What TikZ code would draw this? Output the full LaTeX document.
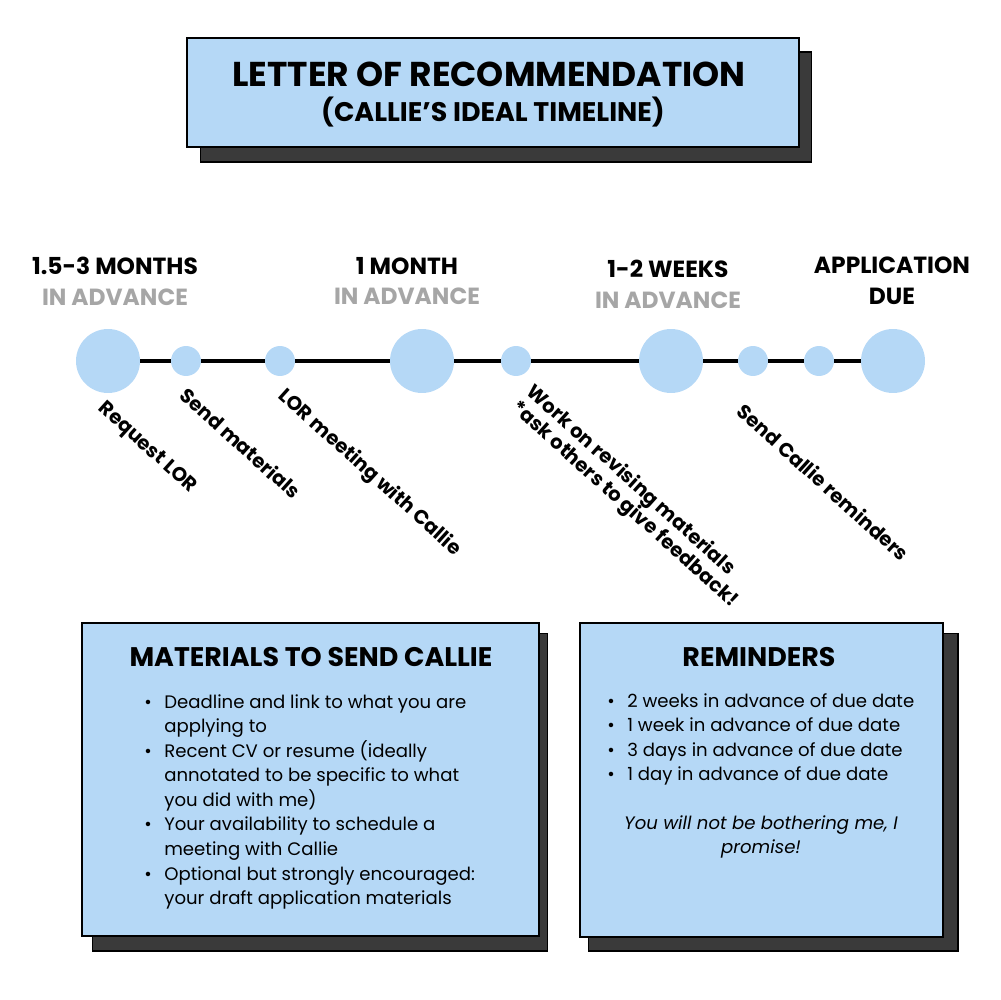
\documentclass[tikz,border=0pt]{standalone}
\usepackage{fontspec}
\setmainfont{Poppins}
\usetikzlibrary{positioning}
\definecolor{lorblue}{HTML}{B5D8F6}
\definecolor{lorshadow}{HTML}{3A3A3A}
\definecolor{lorgray}{HTML}{A6A6A6}
\begin{document}
\begin{tikzpicture}[x=0.02cm,y=-0.02cm,
    card/.style={draw=black,line width=1.3pt,fill=lorblue,inner sep=0pt},
    cardshadow/.style={fill=lorshadow,draw=black,line width=0.6pt,inner sep=0pt},
    bigdot/.style={circle,fill=lorblue,inner sep=0pt,minimum size=1.28cm},
    smalldot/.style={circle,fill=lorblue,inner sep=0pt,minimum size=0.6cm},
    when/.style={font=\bfseries\fontsize{13.3}{17.6}\selectfont,align=center,inner sep=0pt},
    task/.style={font=\bfseries\fontsize{11.2}{12.6}\selectfont,rotate=-42,anchor=north west,inner sep=0pt,align=left},
    cardtitle/.style={font=\bfseries\fontsize{15.3}{18}\selectfont,inner sep=0pt},
    cardtext/.style={font=\fontsize{10.3}{14}\selectfont,inner sep=0pt}]
    %linea del tempo per la lettera di raccomandazione
    \useasboundingbox (0,0) rectangle (1000,1000);

    \node[cardshadow,minimum width=12.24cm,minimum height=2.2cm] (ts) at (506,107) {};
    \node[card,minimum width=12.24cm,minimum height=2.18cm] (title) at (493,92.5) {};
    \node[font=\bfseries\fontsize{19.6}{22}\selectfont,inner sep=0pt] (t1) at (489,74) {LETTER OF RECOMMENDATION};
    \node[font=\bfseries\fontsize{15.3}{18}\selectfont,inner sep=0pt] (t2) at (493,112) {(CALLIE’S IDEAL TIMELINE)};

    \node[when] (w1) at (115,281) {1.5-3 MONTHS\\\textcolor{lorgray}{IN ADVANCE}};
    \node[when] (w2) at (407,281) {1 MONTH\\\textcolor{lorgray}{IN ADVANCE}};
    \node[when] (w3) at (668,284) {1-2 WEEKS\\\textcolor{lorgray}{IN ADVANCE}};
    \node[when] (w4) at (892,281) {APPLICATION\\DUE};

    \node[bigdot] (m1) at (108,361) {};
    \node[smalldot] (s1) at (186,361) {};
    \node[smalldot] (s2) at (280,361) {};
    \node[bigdot] (m2) at (422,361) {};
    \node[smalldot] (s3) at (516,361) {};
    \node[bigdot] (m3) at (671,361) {};
    \node[smalldot] (s4) at (753,361) {};
    \node[smalldot] (s5) at (819,361) {};
    \node[bigdot] (due) at (893,361) {};

    \draw[line width=2.8pt] (m1) -- (s1);
    \draw[line width=2.8pt] (s1) -- (s2);
    \draw[line width=2.8pt] (s2) -- (m2);
    \draw[line width=2.8pt] (m2) -- (s3);
    \draw[line width=2.8pt] (s3) -- (m3);
    \draw[line width=2.8pt] (m3) -- (s4);
    \draw[line width=2.8pt] (s4) -- (s5);
    \draw[line width=2.8pt] (s5) -- (due);

    \node[task] (a1) at (107,399) {Request LOR};
    \node[task] (a2) at (189,385) {Send materials};
    \node[task] (a3) at (288,385) {LOR meeting with Callie};
    \node[task] (a4) at (536,381) {Work on revising materials\\*ask others to give feedback!};
    \node[task] (a5) at (746,401) {Send Callie reminders};

    \node[cardshadow,minimum width=9.12cm,minimum height=6.36cm] (ms) at (320,792) {};
    \node[card,minimum width=9.14cm,minimum height=6.26cm] (mat) at (310.5,779.5) {};
    \node[cardtitle] (mt) at (311,657) {MATERIALS TO SEND CALLIE};
    \node[cardtext,anchor=base west] (ml) at (144,708) {\begin{tabular}[t]{@{}p{0.4cm}@{}l@{}}
        \textbullet & Deadline and link to what you are\\
        & applying to\\
        \textbullet & Recent CV or resume (ideally\\
        & annotated to be specific to what\\
        & you did with me)\\
        \textbullet & Your availability to schedule a\\
        & meeting with Callie\\
        \textbullet & Optional but strongly encouraged:\\
        & your draft application materials
    \end{tabular}};

    \node[cardshadow,minimum width=7.4cm,minimum height=6.36cm] (rs) at (773,792) {};
    \node[card,minimum width=7.26cm,minimum height=6.28cm] (rem) at (761.5,780) {};
    \node[cardtitle] (rt) at (759,657) {REMINDERS};
    \node[cardtext,anchor=base west] (rl) at (607,707) {\begin{tabular}[t]{@{}p{0.4cm}@{}l@{}}
        \textbullet & 2 weeks in advance of due date\\
        \textbullet & 1 week in advance of due date\\
        \textbullet & 3 days in advance of due date\\
        \textbullet & 1 day in advance of due date
    \end{tabular}};
    \node[cardtext,font=\itshape\fontsize{10.3}{14}\selectfont,align=center] (rn) at (761,837) {You will not be bothering me, I\\promise!};
\end{tikzpicture}
\end{document}
